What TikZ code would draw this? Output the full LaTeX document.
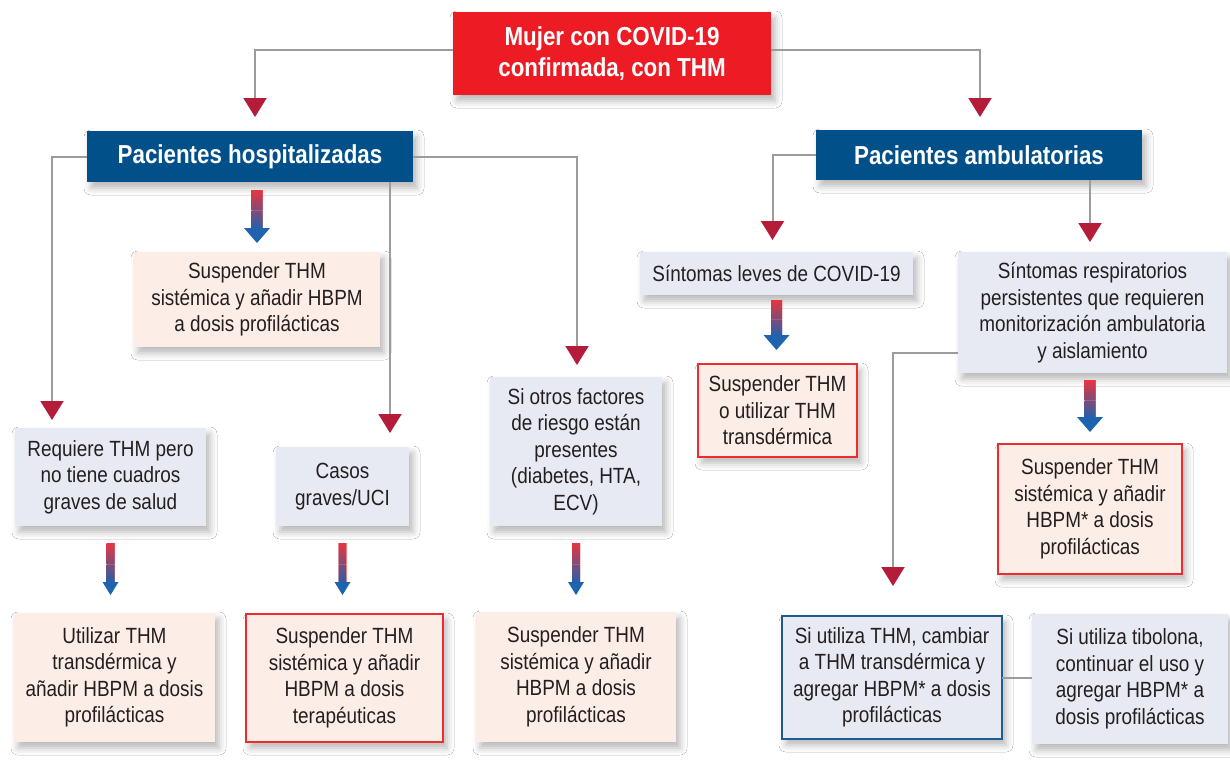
\documentclass[tikz,border=0pt]{standalone}
\usepackage{fontspec}
\setmainfont{Liberation Sans}[FakeStretch=0.86]
\usetikzlibrary{arrows.meta,shadows.blur,calc}
\definecolor{topred}{HTML}{ED1C24}
\definecolor{dblue}{HTML}{02508A}
\definecolor{lav}{HTML}{E8EAF3}
\definecolor{peach}{HTML}{FCEDE6}
\definecolor{bred}{HTML}{EE2B2F}
\definecolor{bblue}{HTML}{1E5B92}
\definecolor{lgray}{HTML}{9C9C9C}
\definecolor{ared}{HTML}{B31D39}
\definecolor{txt}{HTML}{231F20}
\definecolor{gtop}{HTML}{E8353F}
\definecolor{gmid}{HTML}{7A3468}
\definecolor{gbot}{HTML}{2460AA}
\definecolor{ghead}{HTML}{1D63AD}
\tikzset{
 box/.style={inner sep=0pt, outer sep=0pt, align=center, text=txt,
   font=\fontsize{22}{26.5}\selectfont,
   blur shadow={shadow xshift=4pt, shadow yshift=-6pt, shadow blur radius=7pt, shadow opacity=28}},
 lavbox/.style={box, fill=lav},
 peachbox/.style={box, fill=peach},
 redframe/.style={draw=bred, line width=2.5pt},
 blueframe/.style={draw=bblue, line width=2.5pt},
 headbox/.style={box, fill=dblue, text=white, font=\bfseries\fontsize{26}{31}\selectfont},
 conn/.style={draw=lgray, line width=2pt, -{Triangle[width=23pt,length=19pt,color=ared]}},
 plainconn/.style={draw=lgray, line width=2pt},
 wh/.style 2 args={minimum width=#1, minimum height=#2},
}
% #1 src, #2 tgt, #3 x reference, #4 top gap, #5 bottom gap, #6 shaft half width, #7 head half width, #8 head length
\newcommand\garrow[8]{%
 \path let \p1=(#1.south), \p2=(#2.north), \p3=(#3),
   \n1={\y1-#4}, \n2={\y2+#5+#8}, \n3={0.45*\n1+0.55*\n2} in
   [fill=gtop] (\x3-#6,\n1) rectangle (\x3+#6,\n3+0.5pt)
   [top color=gtop, middle color=gmid, bottom color=gbot] (\x3-#6,\n3) rectangle (\x3+#6,\n2);
 \fill[ghead] let \p1=(#1.south), \p2=(#2.north), \p3=(#3) in
   (\x3-#7,\y2+#5+#8) -- (\x3+#7,\y2+#5+#8) -- (\x3,\y2+#5) -- cycle;
}
\begin{document}
\begin{tikzpicture}[x=1pt,y=-1pt]
\useasboundingbox (0,0) rectangle (1230,779);
\fill[white] (0,0) rectangle (1230,779);

% nodes
\node[headbox, fill=topred, wh={318pt}{83pt}] (top) at (612,53.5) {Mujer con COVID-19\\confirmada, con THM};
\node[headbox, wh={326pt}{51pt}] (hosp) at (250,156.5) {Pacientes hospitalizadas};
\node[headbox, wh={326pt}{50pt}] (amb) at (979,155) {Pacientes ambulatorias};

\node[peachbox, wh={246pt}{95pt}] (s1) at (257,299.5) {Suspender THM\\sistémica y añadir HBPM\\a dosis profilácticas};
\node[lavbox, wh={191pt}{98pt}] (req) at (110.5,477) {Requiere THM pero\\no tiene cuadros\\graves de salud};
\node[lavbox, wh={133pt}{79pt}] (casos) at (342.5,486.5) {Casos\\graves/UCI};
\node[lavbox, wh={172pt}{149pt}] (sf) at (576,451.5) {Si otros factores\\de riesgo están\\presentes\\(diabetes, HTA,\\ECV)};

\node[peachbox, wh={201pt}{129pt}] (ut) at (114.5,677.5) {Utilizar THM\\transdérmica y\\añadir HBPM a dosis\\profilácticas};
\node[peachbox, redframe, wh={197pt}{128pt}] (st) at (344.5,678) {Suspender THM\\sistémica y añadir\\HBPM a dosis\\terapéuticas};
\node[peachbox, wh={200pt}{130pt}] (s3) at (576,677) {Suspender THM\\sistémica y añadir\\HBPM a dosis\\profilácticas};

\node[lavbox, wh={273pt}{43pt}] (sl) at (776.5,273.5) {Síntomas leves de COVID-19};
\node[peachbox, redframe, wh={159pt}{93pt}] (so) at (777.5,410.5) {Suspender THM\\o utilizar THM\\transdérmica};
\node[lavbox, wh={269pt}{121pt}] (resp) at (1092.5,312.5) {Síntomas respiratorios\\persistentes que requieren\\monitorización ambulatoria\\y aislamiento};
\node[peachbox, redframe, wh={184pt}{130pt}] (sh) at (1090,509) {Suspender THM\\sistémica y añadir\\HBPM* a dosis\\profilácticas};
\node[lavbox, blueframe, wh={220pt}{123pt}] (ut2) at (892,677.5) {Si utiliza THM, cambiar\\a THM transdérmica y\\agregar HBPM* a dosis\\profilácticas};
\node[lavbox, wh={196pt}{130pt}] (tib) at (1130,679) {Si utiliza tibolona,\\continuar el uso y\\agregar HBPM* a\\dosis profilácticas};

% gray connectors with red heads
\draw[conn] ($(top.west)+(0,-3.5)$) -| ($(hosp.north)+(5,-14)$);
\draw[conn] ($(top.east)+(0,-3.5)$) -| ($(amb.north)+(1,-13)$);
\draw[conn] (hosp.west) -| ($(req.north west)+(37,-8)$);
\draw[conn] (hosp.east) -| ($(sf.north)+(1,-12)$);
\draw[conn] ($(hosp.south east)+(-23,0)$) -- ($(casos.north east)+(-19,-14)$);
\draw[conn] (amb.west) -| ($(sl.north)+(-4,-12)$);
\draw[conn] ($(amb.south east)+(-52,0)$) -- ($(resp.north)+(-2.5,-10)$);
\draw[conn] ($(resp.south west)+(0,-20)$) -| ($(ut2.north)+(1,-30)$);
\draw[plainconn] (ut2.east) -- (ut2.east -| tib.west);

% gradient arrows
\garrow{hosp}{s1}{s1.north}{8pt}{9pt}{5.5pt}{13pt}{15pt}
\garrow{sl}{so}{sl.south}{5pt}{14pt}{5.5pt}{13pt}{15pt}
\garrow{resp}{sh}{sh.north}{7pt}{12pt}{5.5pt}{13pt}{15pt}
\garrow{req}{ut}{req.south}{17pt}{18pt}{4pt}{8pt}{13pt}
\garrow{casos}{st}{casos.south}{17pt}{19pt}{4pt}{8pt}{13pt}
\garrow{sf}{s3}{sf.south}{17pt}{17pt}{4pt}{8pt}{13pt}
\end{tikzpicture}
\end{document}
